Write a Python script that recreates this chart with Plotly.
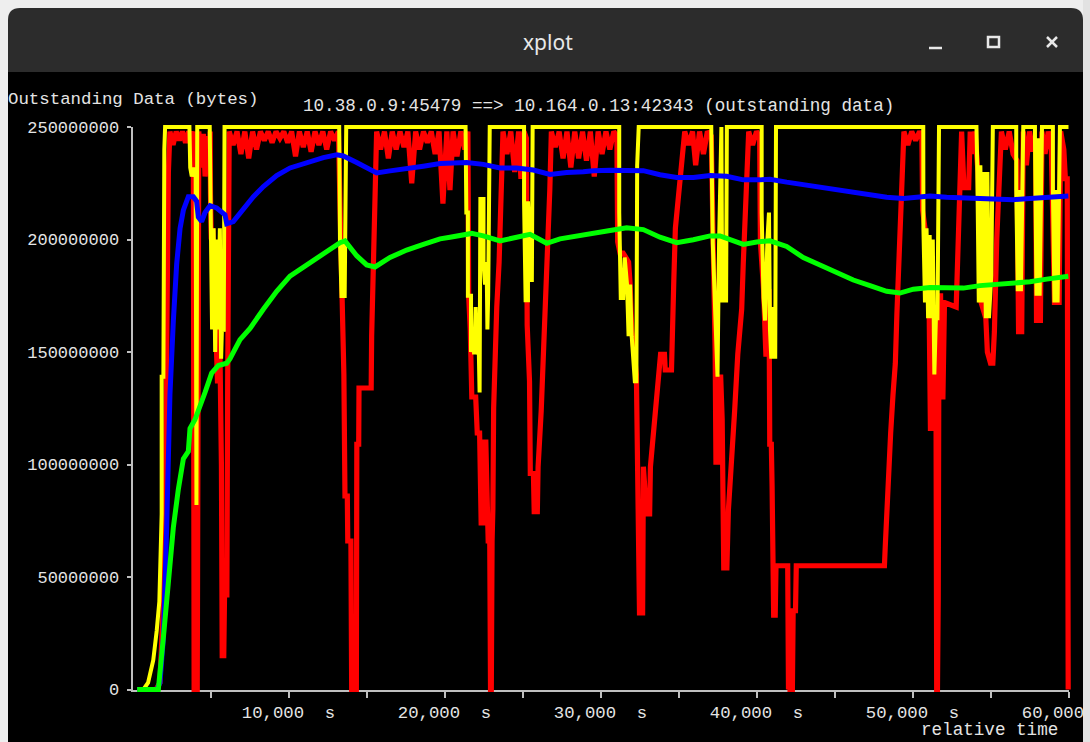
import plotly.graph_objects as go

# ---------------- data (time in seconds, outstanding data in millions of bytes) ----------------
red_t = [300, 1500, 1760, 1870, 1980, 2090, 2150, 2200, 2300, 2400,
         2600, 2800, 3000, 3200, 3400, 3600, 3750, 3900,
         3950, 4150, 4200, 4250,
         4400, 4550, 4650, 4800, 4900, 4980,
         5000, 5050, 5150, 5300, 5450, 5550, 5650, 5700, 5750, 5850, 5900, 6050, 6100, 6200,
         6450, 6700, 6950, 7200, 7450, 7700, 7950, 8200, 8450, 8700, 8950, 9200, 9450, 9700, 9950,
         10200, 10450, 10700, 10950, 11200, 11450, 11700, 11950, 12200, 12450, 12700, 12950, 13200,
         13350, 13450, 13550, 13620, 13770, 13800, 14000, 14050, 14350, 14380, 14500, 14520, 15300,
         15330, 15380, 15420, 15470, 15550, 15650,
         15900, 16150, 16400, 16650, 16900, 17150, 17400, 17650, 17900, 18150, 18400, 18650, 18900,
         19150, 19400, 19650, 19900, 20150, 20350, 20550, 20800, 21050, 21300, 21500,
         21550, 21650, 21750, 22000, 22100, 22250, 22350, 22500, 22550, 22650, 22800, 22900, 22950,
         23000, 23050, 23100, 23150, 23250, 23350, 23500, 23600, 23750,
         24000, 24250, 24500, 24750, 24900, 25100, 25250,
         25300, 25450, 25500, 25700, 25750, 25950, 26000, 26200, 26400, 26500, 26650, 26750, 26850,
         27100, 27350, 27600, 27850, 28100, 28350, 28600, 28850, 29100, 29350, 29600, 29850, 30100,
         30350, 30600, 30850, 31050,
         31100, 31250, 31450, 31800, 31900, 32000, 32300, 32400, 32500, 32700, 32750, 32950, 33150,
         33200, 33500, 33700, 33850, 34100, 34150, 34550, 34600, 34700, 34800, 35000, 35200, 35400,
         35650, 35900, 36100, 36350, 36600, 36850, 37100,
         37250, 37350, 37400, 37650, 37700, 37800, 37900, 38100, 38200, 38400, 38600, 38800, 39050,
         39150, 39250, 39350, 39500,
         39750, 40000, 40200,
         40250, 40450, 40600, 40750, 40800, 40850, 40950, 41000, 41100, 41200, 41250, 42000, 42050,
         42100, 42150, 42300, 42350, 42500, 42550, 48200, 48250, 48350, 48450, 48600, 48750, 48900,
         49000, 49100, 49200, 49300, 49450,
         49700, 49950, 50200, 50450, 50600,
         50650, 50800, 51050, 51150, 51300, 51350, 51500, 51550, 51600, 51650, 51700, 51800, 51850,
         51950, 52050, 52800, 52900, 53000, 53150, 53300, 53600, 53700, 53900, 54000, 54200, 54400,
         54700, 54800, 55000, 55150, 55250, 55400, 55550, 55700, 55950, 56200, 56450, 56700, 56800,
         57000, 57100, 57300, 57500, 57700, 57900, 57950, 58200, 58300, 58500, 58700, 58900, 59000,
         59100, 59400, 59500, 59700, 59800, 59920, 59920, 59980]
red_mb = [0, 0, 3, 23, 39, 78, 139, 205, 230, 248,
          242, 248, 244, 248, 243, 248, 245, 248,
          0, 0, 200, 248,
          232, 247, 228, 246, 230, 248,
          220, 200, 205, 160, 136, 180, 136, 100, 15, 15, 42, 42, 135, 248,
          242, 248, 238, 248, 236, 248, 240, 248, 244, 248, 243, 248, 245, 248, 243,
          248, 237, 248, 241, 248, 239, 248, 242, 248, 240, 248, 244, 248,
          200, 170, 140, 86, 86, 66, 66, 0, 0, 109, 109, 134, 134,
          157, 172, 190, 200, 220, 248,
          240, 248, 236, 248, 240, 248, 241, 248, 225, 248, 240, 248, 243,
          248, 238, 248, 216, 248, 222, 248, 237, 248, 240, 248,
          175, 160, 130, 130, 114, 114, 74, 74, 110, 110, 66, 66, 0,
          0, 66, 80, 125, 155, 170, 190, 222, 248,
          238, 248, 230, 248, 227, 248, 245,
          162, 137, 96, 96, 79, 79, 99, 124, 155, 175, 197, 222, 248,
          241, 248, 236, 248, 232, 248, 236, 248, 235, 248, 228, 248, 238,
          248, 240, 248, 246,
          199, 194, 194, 190, 180, 160, 140, 60, 34, 34, 99, 78, 78,
          99, 124, 141, 149, 149, 142, 142, 165, 182, 205, 219, 233, 248,
          242, 248, 233, 248, 238, 248, 246,
          200, 150, 101, 101, 140, 120, 54, 54, 80, 99, 124, 149, 169,
          189, 210, 233, 248,
          242, 248, 246,
          199, 178, 149, 149, 178, 109, 109, 90, 33, 33, 55, 55, 0,
          20, 0, 0, 35, 35, 55, 55, 63, 82, 101, 114, 131, 145,
          167, 185, 208, 232, 248,
          242, 248, 244, 248, 246,
          213, 205, 180, 116, 116, 160, 150, 0, 0, 40, 175, 175, 130,
          130, 172, 170, 197, 217, 248, 223, 223, 248, 238, 248, 230, 172,
          165, 150, 145, 145, 159, 200, 233, 248, 240, 248, 238, 235, 159,
          159, 248, 233, 248, 240, 240, 164, 164, 248, 238, 248, 240, 200,
          172, 172, 248, 240, 227, 227, 114, 0]

yellow_t = [300, 700, 1000, 1330, 1550, 1720, 1870, 1870, 1980, 1980, 2040, 2090,
            3650, 3700, 3800, 3950, 4050, 4100, 4150,
            4950, 5000, 5100, 5200, 5300, 5400, 5500, 5600, 5680, 5750, 5850, 5900,
            13250, 13300, 13400, 13500, 13600, 13700,
            21350, 21400, 21500, 21500, 21700, 21700, 21800, 21900, 22000, 22100, 22200, 22250,
            22300, 22500, 22500, 22600, 22700, 22750, 22800, 22900,
            25100, 25100, 25200, 25350, 25350, 25450, 25500, 25600, 25650,
            31200, 31200, 31300, 31450, 31550, 31700, 31800, 31900, 32000, 32100, 32200, 32300,
            32350, 32450,
            37100, 37200, 37400, 37500, 37600, 37750, 37800, 37950, 38050, 38100,
            40330, 40330, 40450, 40550, 40700, 40800, 40864, 40950, 41100, 41200, 41250,
            50690, 50700, 50800, 50900, 51000, 51100, 51200, 51300, 51400, 51500, 51600, 51700,
            54100, 54150, 54250, 54350, 54450, 54600, 54700, 54800, 54900, 55050, 55150,
            56650, 56650, 56750, 56850, 56950, 57050, 57100,
            57850, 57850, 57950, 58050, 58150, 58250, 58300,
            59000, 59000, 59100, 59200, 59300, 59400, 59450, 60000]
yellow_mb = [0, 0, 3, 13, 26, 39, 78, 139, 139, 205, 240, 250,
             250, 232, 228, 232, 228, 82, 250,
             250, 205, 160, 205, 150, 200, 160, 205, 147, 165, 159, 250,
             250, 200, 174, 200, 174, 250,
             250, 212, 212, 175, 175, 150, 160, 149, 170, 149, 150, 132,
             218, 218, 190, 180, 190, 160, 175, 250,
             250, 217, 173, 173, 217, 200, 182, 182, 250,
             250, 212, 174, 174, 192, 180, 157, 180, 157, 144, 137, 137,
             233, 250,
             250, 198, 160, 139, 198, 250, 172, 200, 172, 250,
             250, 212, 174, 164, 200, 212, 160, 147, 170, 147, 250,
             250, 205, 172, 205, 165, 202, 165, 200, 140, 165, 165, 250,
             250, 233, 172, 233, 172, 230, 165, 230, 165, 184, 250,
             250, 222, 177, 222, 177, 222, 250,
             250, 245, 175, 245, 175, 245, 250,
             250, 222, 172, 222, 172, 222, 250, 250]

blue_t = [300, 1550, 1760, 1980, 2190, 2400, 2620, 2830, 3050, 3260, 3580, 3900, 4110, 4220,
          4430, 4650, 4970, 5400, 5930, 6040, 6460, 7110, 7750, 8390, 9240, 10100, 11165, 12233,
          13088, 13515, 14370, 15011, 15652, 16507, 17575, 18644, 19713, 20354, 21420, 22489,
          23558, 24626, 25694, 26763, 27832, 28900, 29541, 30610, 31677, 32745, 33814, 34882,
          35951, 37019, 38088, 39156, 40225, 40864, 41933, 43001, 44070, 45138, 46207, 47275,
          48344, 49412, 50480, 51120, 52189, 53257, 54326, 55394, 56463, 57531, 58600, 59241, 59989]
blue_mb = [0, 0, 3, 23, 72, 131, 164, 189, 205, 213, 219, 219, 217, 210,
           208, 212, 215, 214, 211, 207, 208, 213.5, 219, 223.5, 228.4, 231.8, 234.2, 236.4,
           237.6, 237.1, 234.2, 231.8, 229.6, 230.5, 231.3, 232.6, 233.8, 234, 234.2, 233.4,
           231.8, 231.8, 230.9, 228.9, 229.8, 230.1, 230.6, 230.8, 230.6, 230.6, 228.8, 227.6,
           227.6, 228.4, 228.1, 226.5, 226.5, 226.8, 225.5, 224.3, 223.5, 222.1, 221, 219.8,
           218.8, 218.2, 218.8, 219.3, 218.8, 218.5, 218.2, 218.2, 217.7, 218.2, 218.5, 218.8, 219.3]

green_t = [300, 1120, 1656, 1977, 2297, 2618, 2938, 3259, 3579, 3686, 4007, 4328, 4648, 5075,
           5503, 6037, 6251, 6892, 7533, 8388, 9242, 10097, 11165, 12233, 13302, 13622, 14049,
           14370, 15011, 15545, 16507, 17575, 18644, 19713, 20354, 21207, 21741, 22489, 23558,
           24626, 25481, 26015, 26549, 27404, 28473, 29541, 30610, 31677, 32745, 33814, 34882,
           35951, 37019, 37660, 38515, 39156, 40011, 40864, 41933, 43001, 44070, 45138, 46207,
           47275, 48344, 49198, 50053, 51120, 52189, 53257, 54326, 55394, 56463, 57531, 58600,
           59241, 59989]
green_mb = [0, 0, 0, 23, 48, 72, 89, 102.5, 105.8, 116, 120, 125.6, 132, 140.6,
            144, 145, 147, 155.5, 160.5, 169, 177, 183.7, 188.7, 193.6, 198.6, 199.4, 196,
            192.8, 188.7, 187.8, 192, 195.3, 197.8, 200.3, 201, 202.3, 202.7, 201.6, 199.4,
            201, 202.3, 200.3, 198.3, 200.3, 201.6, 203.2, 204, 205.2, 204.4, 201, 198.6,
            199.9, 201.6, 201.6, 199.4, 197.8, 198.9, 199.4, 196.9, 192, 188.7, 185.3, 182,
            179.5, 177, 176.2, 177.9, 178.7, 178.4, 178.4, 179.5, 180, 180.4, 181.2, 182.4,
            182.9, 183.7]

x_tickvals = [5000, 10000, 15000, 20000, 25000, 30000, 35000, 40000, 45000, 50000, 55000, 60000]
x_ticktext = ["", "10,000  s", "", "20,000  s", "", "30,000  s", "", "40,000  s", "",
              "50,000  s", "", "60,000  s"]
y_tickvals = [0, 50, 100, 150, 200, 250]
y_ticktext = ["0", "50000000", "100000000", "150000000", "200000000", "250000000"]

title_text = "10.38.0.9:45479 ==> 10.164.0.13:42343 (outstanding data)"
ylabel_text = "Outstanding Data (bytes)"
xlabel_text = "relative time"
window_title = "xplot"

# ---------------- geometry (pixels) ----------------
W, H = 1090, 742
XMAX, YMAX = 60000, 250
X0_PX, X1_PX = 132.5, 1068.5     # pixel of x=0 and x=XMAX
Y0_PX, Y1_PX = 689.5, 127.0      # pixel of y=0 and y=YMAX


def fx(px):
    return px / W


def fy(py):
    return 1 - py / H


def px_to_x(px):
    return (px - X0_PX) / (X1_PX - X0_PX) * XMAX


def py_to_y(py):
    return (Y0_PX - py) / (Y0_PX - Y1_PX) * YMAX


MONO = "Liberation Mono, DejaVu Sans Mono, monospace"
TXT = "#e4e4e4"
AX = "#bfbfbf"

fig = go.Figure()
# placeholder on the visible (tick) axes
fig.add_trace(go.Scatter(x=[None], y=[None], xaxis="x", yaxis="y", mode="lines",
                         showlegend=False, hoverinfo="skip"))

series = [
    (red_t, red_mb, "#ff0000", 5.2),
    (yellow_t, yellow_mb, "#ffff00", 4),
    (blue_t, blue_mb, "#0000ff", 5),
    (green_t, green_mb, "#00ff00", 5),
]
for t, v, col, w in series:
    fig.add_trace(go.Scatter(x=t, y=v, mode="lines", line=dict(color=col, width=w),
                             xaxis="x2", yaxis="y2", showlegend=False, hoverinfo="skip"))

# data axes (invisible, padded so thick lines are not clipped)
D2X = (118, 1078)
D2Y = (108, 702)

fig.update_layout(
    width=W, height=H,
    margin=dict(l=0, r=0, t=0, b=0, pad=0, autoexpand=False),
    paper_bgcolor="#000000",
    plot_bgcolor="rgba(0,0,0,0)",
    showlegend=False,
    xaxis=dict(domain=[fx(X0_PX), fx(X1_PX)], range=[0, XMAX], anchor="y", automargin=False,
               showline=True, linecolor=AX, linewidth=2, showgrid=False, zeroline=False,
               ticks="outside", ticklen=6, tickwidth=2, tickcolor=AX,
               tickmode="array", tickvals=x_tickvals, ticktext=x_ticktext,
               ticklabeloverflow="allow",
               tickfont=dict(family=MONO, size=17.3, color=TXT), fixedrange=True),
    yaxis=dict(domain=[fy(Y0_PX), fy(Y1_PX)], range=[0, YMAX], anchor="x", automargin=False,
               showline=True, linecolor=AX, linewidth=2, showgrid=False, zeroline=False,
               ticks="outside", ticklen=4, tickwidth=2, tickcolor=AX,
               tickmode="array", tickvals=y_tickvals, ticktext=y_ticktext,
               ticklabelstandoff=4, ticklabeloverflow="allow",
               tickfont=dict(family=MONO, size=17, color=TXT), fixedrange=True),
    xaxis2=dict(domain=[fx(D2X[0]), fx(D2X[1])], range=[px_to_x(D2X[0]), px_to_x(D2X[1])],
                anchor="y2", visible=False, fixedrange=True, automargin=False),
    yaxis2=dict(domain=[fy(D2Y[1]), fy(D2Y[0])], range=[py_to_y(D2Y[1]), py_to_y(D2Y[0])],
                anchor="x2", visible=False, fixedrange=True, automargin=False),
)

# ---------------- window chrome ----------------
LIGHT = "#eeeeee"
BAR = "#2c2c2c"
WL, WR, WT, WB = 8, 1083, 8, 72
r = 12


def P(px, py):
    return f"{fx(px):.5f},{fy(py):.5f}"


bar_path = (f"M {P(WL, WB)} L {P(WL, WT + r)} Q {P(WL, WT)} {P(WL + r, WT)} "
            f"L {P(WR - r, WT)} Q {P(WR, WT)} {P(WR, WT + r)} L {P(WR, WB)} Z")

shapes = [
    dict(type="rect", xref="paper", yref="paper", x0=0, x1=1, y0=fy(WB), y1=1,
         fillcolor=LIGHT, line=dict(width=0), layer="above"),
    dict(type="rect", xref="paper", yref="paper", x0=0, x1=fx(WL), y0=0, y1=1,
         fillcolor=LIGHT, line=dict(width=0), layer="above"),
    dict(type="rect", xref="paper", yref="paper", x0=fx(WR), x1=1, y0=0, y1=1,
         fillcolor="#e2e2e2", line=dict(width=0), layer="above"),
    dict(type="path", xref="paper", yref="paper", path=bar_path,
         fillcolor=BAR, line=dict(width=0), layer="above"),
    # minimize
    dict(type="line", xref="paper", yref="paper", x0=fx(929), x1=fx(942), y0=fy(48), y1=fy(48),
         line=dict(color="#e8e8e8", width=2.5), layer="above"),
    # maximize
    dict(type="rect", xref="paper", yref="paper", x0=fx(988), x1=fx(999), y0=fy(47), y1=fy(37),
         line=dict(color="#e8e8e8", width=2.5), fillcolor="rgba(0,0,0,0)", layer="above"),
    # close
    dict(type="line", xref="paper", yref="paper", x0=fx(1047), x1=fx(1057), y0=fy(37), y1=fy(47),
         line=dict(color="#e8e8e8", width=2.5), layer="above"),
    dict(type="line", xref="paper", yref="paper", x0=fx(1047), x1=fx(1057), y0=fy(47), y1=fy(37),
         line=dict(color="#e8e8e8", width=2.5), layer="above"),
]
fig.update_layout(shapes=shapes)

annotations = [
    dict(text=window_title, x=fx(548), y=fy(42), xref="paper", yref="paper",
         xanchor="center", yanchor="middle", showarrow=False,
         font=dict(family="Noto Sans, DejaVu Sans, sans-serif", size=21, color="#e8e8e8")),
    dict(text=ylabel_text, x=fx(6), y=fy(99), xref="paper", yref="paper",
         xanchor="left", yanchor="middle", showarrow=False,
         font=dict(family=MONO, size=17.4, color=TXT)),
    dict(text=title_text, x=fx(599), y=fy(106), xref="paper", yref="paper",
         xanchor="center", yanchor="middle", showarrow=False,
         font=dict(family=MONO, size=17.6, color=TXT)),
    dict(text=xlabel_text, x=fx(989), y=fy(730), xref="paper", yref="paper",
         xanchor="center", yanchor="middle", showarrow=False,
         font=dict(family=MONO, size=17.6, color=TXT)),
]
fig.update_layout(annotations=annotations)

fig.write_html("out.html", config={"displayModeBar": False, "staticPlot": True},
               post_script="document.body.style.margin='0';"
                           "document.body.style.overflow='hidden';")
